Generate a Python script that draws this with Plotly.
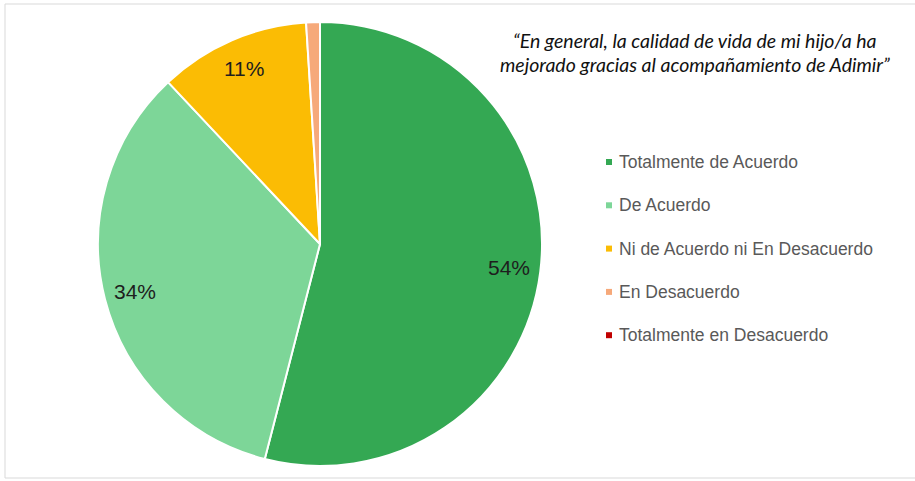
import math
import plotly.graph_objects as go

# Survey answers and their shares (%)
categories = [
    "Totalmente de Acuerdo",
    "De Acuerdo",
    "Ni de Acuerdo ni En Desacuerdo",
    "En Desacuerdo",
    "Totalmente en Desacuerdo",
]
values = [54, 34, 11, 1, 0]
colors = ["#34A853", "#7DD698", "#FBBC04", "#F6A97A", "#C00000"]
shown_labels = ["54%", "34%", "11%", "", ""]

title_lines = [
    "“En general, la calidad de vida de mi hijo/a ha",
    "mejorado gracias al acompañamiento de Adimir”",
]

W, H = 915, 481
cx, cy, R = 320, 244, 222  # pie centre and radius in pixels

fig = go.Figure()
fig.add_trace(go.Pie(
    labels=categories,
    values=values,
    sort=False,
    direction="clockwise",
    rotation=0,
    marker=dict(colors=colors, line=dict(color="white", width=2)),
    textinfo="none",
    hoverinfo="label+percent",
    showlegend=False,
    domain=dict(x=[(cx - R) / W, (cx + R) / W],
                y=[(H - cy - R) / H, (H - cy + R) / H]),
))

annotations = []
shapes = []

# Percentage labels placed along each slice's mid-angle, near the rim
total = sum(values)
cum = 0.0
for v, lab in zip(values, shown_labels):
    mid = (cum + v / 2) / total * 2 * math.pi
    cum += v
    if not lab:
        continue
    r = 0.86 * R
    px = cx + r * math.sin(mid)
    py = cy - r * math.cos(mid)
    annotations.append(dict(
        x=px / W, y=1 - py / H, xref="paper", yref="paper",
        text=lab, showarrow=False, xanchor="center", yanchor="middle",
        font=dict(family="Liberation Sans, Arial", size=21, color="#1E1E1E"),
    ))

# Legend drawn as small squares with labels
leg_x, leg_y0, leg_dy = 609, 162, 43.3
for i, (name, col) in enumerate(zip(categories, colors)):
    yy = leg_y0 + i * leg_dy
    shapes.append(dict(
        type="rect", xref="paper", yref="paper",
        x0=(leg_x - 3) / W, x1=(leg_x + 3) / W,
        y0=1 - (yy + 3) / H, y1=1 - (yy - 3) / H,
        fillcolor=col, line=dict(width=0),
    ))
    annotations.append(dict(
        x=(leg_x + 8) / W, y=1 - yy / H, xref="paper", yref="paper",
        text=name, showarrow=False, xanchor="left", yanchor="middle",
        font=dict(family="Liberation Sans, Arial", size=17.5, color="#595959"),
    ))

# Quoted title, italic, two lines
for j, line in enumerate(title_lines):
    annotations.append(dict(
        x=695 / W, y=1 - (40 + 25 * j) / H, xref="paper", yref="paper",
        text="<i>" + line + "</i>", showarrow=False,
        xanchor="center", yanchor="middle",
        font=dict(family="Lato, Open Sans", size=19.5, color="#111111"),
    ))

# Thin frame around the chart area
shapes.append(dict(
    type="rect", xref="paper", yref="paper",
    x0=5 / W, x1=1.01, y0=1 - 478 / H, y1=1 - 4 / H,
    line=dict(color="#D9D9D9", width=1), fillcolor="rgba(0,0,0,0)",
))

fig.update_layout(
    width=W, height=H,
    margin=dict(l=0, r=0, t=0, b=0),
    paper_bgcolor="white", plot_bgcolor="white",
    annotations=annotations, shapes=shapes,
)

fig.write_html("out.html")
